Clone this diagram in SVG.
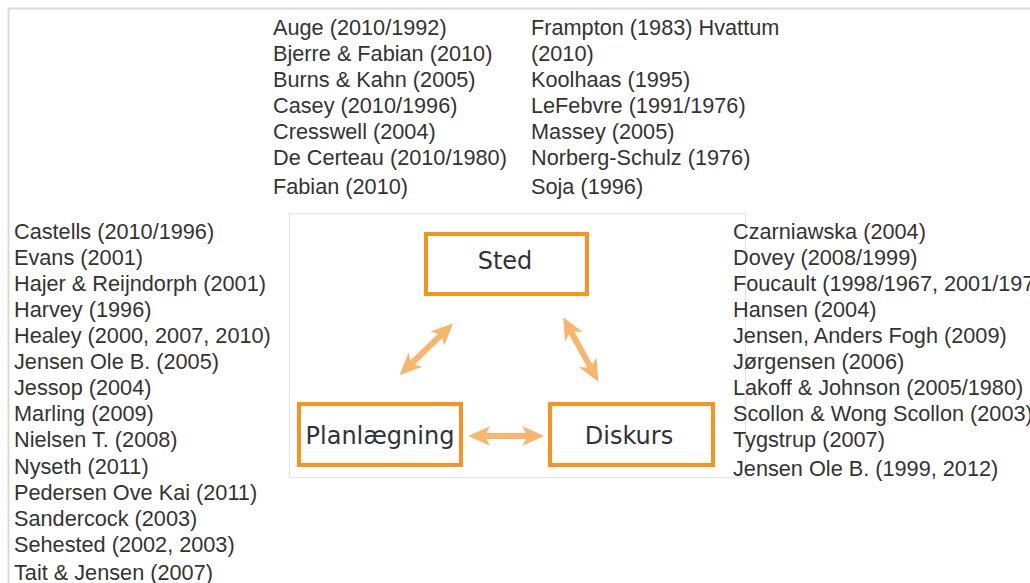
<svg xmlns="http://www.w3.org/2000/svg" width="1030" height="583" viewBox="0 0 1030 583">
<style>
.ref{font-family:"Liberation Sans",Arial,sans-serif;font-size:21.7px;fill:#333333}
.lbl{font-family:"DejaVu Sans",Verdana,sans-serif;font-size:24px;fill:#2f3336;text-anchor:middle}
.box{fill:#ffffff;stroke:#f7931e;stroke-width:4}
.conn{stroke:#f8b56b;stroke-width:6;fill:none}
</style>
<defs>
<marker id="ah" viewBox="0 0 22 20" refX="6" refY="10" markerWidth="22" markerHeight="20" markerUnits="userSpaceOnUse" orient="auto-start-reverse">
<path d="M0,0 L22,10 L0,20 L6,10 z" fill="#f8b56b"/>
</marker>
</defs>
<rect x="0" y="0" width="1030" height="583" fill="#ffffff"/>
<path d="M8.5,583 V8.5 H1030" fill="none" stroke="#d9d9d9" stroke-width="2"/>
<rect x="289.5" y="213.5" width="456" height="264" fill="#ffffff" stroke="#e3e3e3" stroke-width="1"/>

<g id="refs-top-left" class="ref">
<text x="273" y="35">Auge (2010/1992)</text>
<text x="273" y="61">Bjerre &amp; Fabian (2010)</text>
<text x="273" y="87">Burns &amp; Kahn (2005)</text>
<text x="273" y="113">Casey (2010/1996)</text>
<text x="273" y="139">Cresswell (2004)</text>
<text x="273" y="165">De Certeau (2010/1980)</text>
<text x="273" y="194">Fabian (2010)</text>
</g>
<g id="refs-top-right" class="ref">
<text x="531" y="35">Frampton (1983) Hvattum</text>
<text x="531" y="61">(2010)</text>
<text x="531" y="87">Koolhaas (1995)</text>
<text x="531" y="113">LeFebvre (1991/1976)</text>
<text x="531" y="139">Massey (2005)</text>
<text x="531" y="165">Norberg-Schulz (1976)</text>
<text x="531" y="194">Soja (1996)</text>
</g>
<g id="refs-left" class="ref">
<text x="14" y="239">Castells (2010/1996)</text>
<text x="14" y="265">Evans (2001)</text>
<text x="14" y="291">Hajer &amp; Reijndorph (2001)</text>
<text x="14" y="317">Harvey (1996)</text>
<text x="14" y="343">Healey (2000, 2007, 2010)</text>
<text x="14" y="369">Jensen Ole B. (2005)</text>
<text x="14" y="395">Jessop (2004)</text>
<text x="14" y="421">Marling (2009)</text>
<text x="14" y="447">Nielsen T. (2008)</text>
<text x="14" y="474">Nyseth (2011)</text>
<text x="14" y="500">Pedersen Ove Kai (2011)</text>
<text x="14" y="526">Sandercock (2003)</text>
<text x="14" y="552">Sehested (2002, 2003)</text>
<text x="14" y="580">Tait &amp; Jensen (2007)</text>
</g>
<g id="refs-right" class="ref">
<text x="733" y="239">Czarniawska (2004)</text>
<text x="733" y="265">Dovey (2008/1999)</text>
<text x="733" y="291">Foucault (1998/1967, 2001/197</text>
<text x="733" y="317">Hansen (2004)</text>
<text x="733" y="343">Jensen, Anders Fogh (2009)</text>
<text x="733" y="369">Jørgensen (2006)</text>
<text x="733" y="395">Lakoff &amp; Johnson (2005/1980)</text>
<text x="733" y="421">Scollon &amp; Wong Scollon (2003)</text>
<text x="733" y="447">Tygstrup (2007)</text>
<text x="733" y="476">Jensen Ole B. (1999, 2012)</text>
</g>

<g id="connectors">
<line class="conn" x1="411.2" y1="363.8" x2="441.5" y2="334.5" marker-start="url(#ah)" marker-end="url(#ah)"/>
<line class="conn" x1="570.9" y1="331.4" x2="590.7" y2="367.6" marker-start="url(#ah)" marker-end="url(#ah)"/>
<line class="conn" x1="484.3" y1="436" x2="528" y2="436" marker-start="url(#ah)" marker-end="url(#ah)"/>
</g>

<g id="node-sted">
<rect class="box" x="426" y="234" width="161" height="60"/>
<text class="lbl" x="505" y="269">Sted</text>
</g>
<g id="node-planlaegning">
<rect class="box" x="299" y="404" width="162" height="61"/>
<text class="lbl" x="380" y="444">Planlægning</text>
</g>
<g id="node-diskurs">
<rect class="box" x="550" y="404" width="163" height="61"/>
<text class="lbl" x="629" y="444">Diskurs</text>
</g>
</svg>
